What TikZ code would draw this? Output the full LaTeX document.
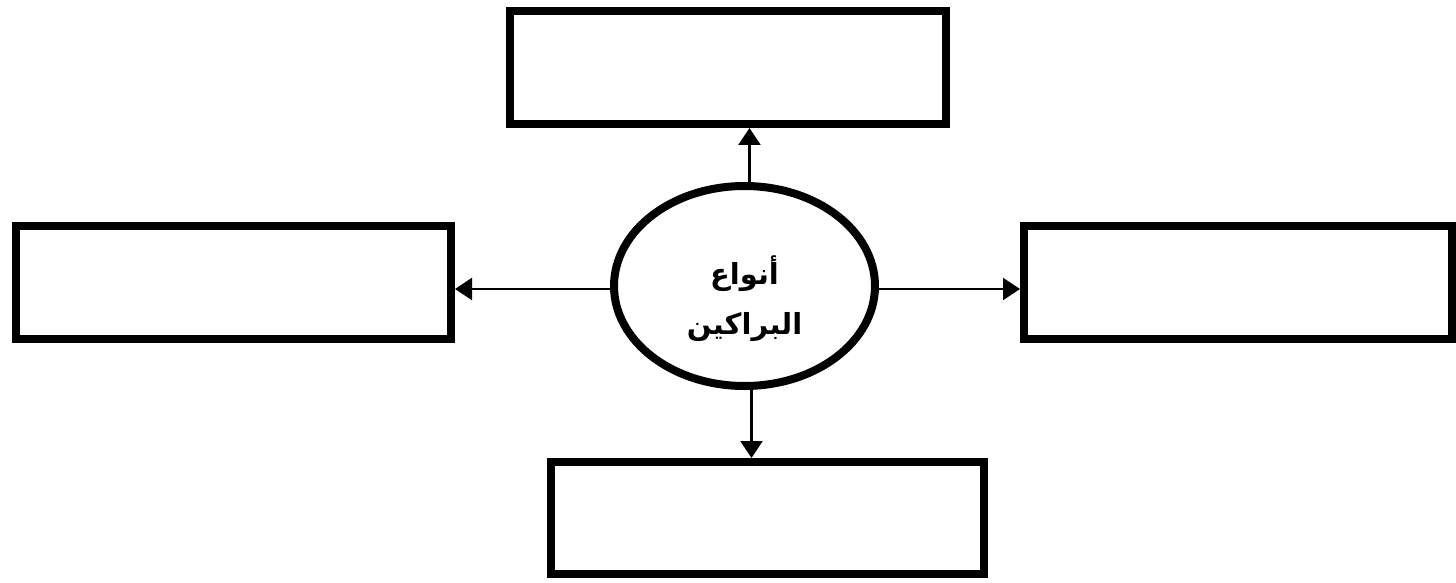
\documentclass[tikz,border=0pt]{standalone}
\usepackage{fontspec}
\newfontfamily\arabicfont[Script=Arabic]{DejaVu Sans}
\TeXXeTstate=1
\usetikzlibrary{arrows.meta,shapes.geometric}
\tikzset{
  box/.style={draw=black, line width=8pt, rectangle, inner sep=0pt},
  hub/.style={draw=black, line width=8pt, ellipse, inner sep=0pt, minimum width=261pt, minimum height=200pt},
  hubtext/.style={font=\arabicfont\bfseries\fontsize{29}{50}\selectfont, align=center, inner sep=0pt},
  arr/.style={draw=black, line width=2.5pt, -{Triangle[length=17pt,width=22pt]}}
}
\begin{document}
\begin{tikzpicture}[x=1pt,y=-1pt]
\useasboundingbox[fill=white] (0,0) rectangle (1456,583);
\node[box, minimum width=436pt, minimum height=113pt] (top) at (728,67.5) {};
\node[box, minimum width=435pt, minimum height=113pt] (left) at (233.5,282.5) {};
\node[box, minimum width=428pt, minimum height=113pt] (right) at (1238,282.5) {};
\node[box, minimum width=433pt, minimum height=112pt] (bottom) at (767.5,518) {};
\node[hub, label={[hubtext, yshift=-13pt]center:\beginR أنواع\endR\\ \beginR البراكين\endR}] (hub) at (744.5,286) {};
\coordinate (hubN) at ([xshift=5pt]hub.north);
\coordinate (hubS) at ([xshift=7pt]hub.south);
\coordinate (hubW) at ([yshift=-3pt]hub.west);
\coordinate (hubE) at ([yshift=-3pt]hub.east);
\draw[arr] (hubN) -- (hubN |- top.south);
\draw[arr] (hubS) -- (hubS |- bottom.north);
\draw[arr] (hubW) -- (hubW -| left.east);
\draw[arr] (hubE) -- (hubE -| right.west);
\end{tikzpicture}
\end{document}
